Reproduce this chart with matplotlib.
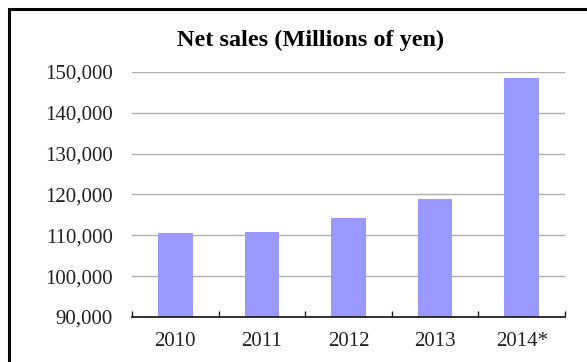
import matplotlib.pyplot as plt
import numpy as np
from matplotlib.patches import Rectangle

years = ["2010", "2011", "2012", "2013", "2014*"]
net_sales = [110600, 110800, 114300, 118900, 148500]
yticks = [90000, 100000, 110000, 120000, 130000, 140000, 150000]

plt.rcParams["font.family"] = ["Liberation Serif", "DejaVu Serif"]

W, H = 587, 362
fig = plt.figure(figsize=(W / 100, H / 100), dpi=100)
ax = fig.add_axes([132 / W, 1 - 317 / H, (565 - 132) / W, (317 - 72) / H])

x = np.arange(len(years))
ax.bar(x, net_sales, width=0.4, color="#9999FF", zorder=3)

ax.set_xlim(-0.5, len(years) - 0.5)
ax.set_ylim(90000, 150000)
ax.set_yticks(yticks)
ax.set_yticklabels([f"{v:,}" for v in yticks], fontsize=15, color="#222222")
ax.tick_params(axis="y", length=0, pad=14)

# category labels centred, boundary ticks pointing up
ax.set_xticks(x)
ax.set_xticklabels(years, fontsize=15, color="#222222")
ax.tick_params(axis="x", which="major", length=0, pad=11)
ax.set_xticks(np.arange(-0.5, len(years)), minor=True)
ax.tick_params(axis="x", which="minor", direction="in", length=4, width=1, color="#222222")

ax.grid(axis="y", color="#B0B0B0", linewidth=1, zorder=0)
for s in ["left", "right", "top"]:
    ax.spines[s].set_visible(False)
ax.spines["bottom"].set_color("#111111")
ax.spines["bottom"].set_linewidth(1.2)
ax.spines["bottom"].set_zorder(4)

fig.text(311 / W, 1 - 40 / H, "Net sales (Millions of yen)", ha="center", va="center",
         fontsize=17.5, fontweight="bold")

# outer frame (right and bottom edges fall outside the image)
fig.patches.append(Rectangle((9 / W, -0.2), 1.2, 1.2 - 9 / H,
                             transform=fig.transFigure, fill=False,
                             edgecolor="black", linewidth=2.2))

fig.savefig("out.png", dpi=100)
